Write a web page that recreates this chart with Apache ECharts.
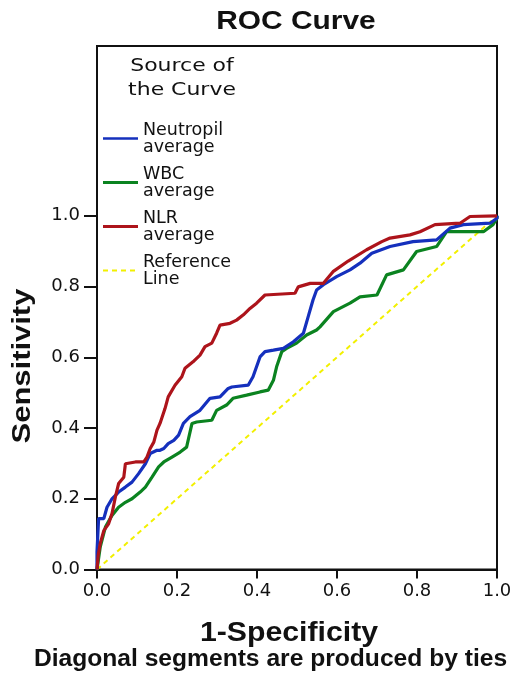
<!DOCTYPE html>
<html>
<head>
<meta charset="utf-8">
<script src="https://cdn.jsdelivr.net/npm/echarts@6/dist/echarts.min.js"></script>
<style>
  html, body { margin: 0; padding: 0; background: #ffffff; }
  #chart { width: 518px; height: 673px; }
</style>
</head>
<body>
<div id="chart"></div>
<script>
// ---- tick labels ----
const xTicks = [0, 0.2, 0.4, 0.6, 0.8, 1.0];
const yTicks = [0, 0.2, 0.4, 0.6, 0.8, 1.0];

// ---- series names ----
const seriesNames = ['Neutropil\naverage', 'WBC\naverage', 'NLR\naverage', 'Reference\nLine'];

// ---- Neutropil average (1-Specificity, Sensitivity) ----
const neutFpr = [0, 0, 0.004, 0.017, 0.025, 0.0375, 0.054, 0.071, 0.0875, 0.104, 0.121, 0.133, 0.15, 0.1575, 0.167, 0.178, 0.192, 0.204, 0.216, 0.2325, 0.2575, 0.2825, 0.3075, 0.328, 0.337, 0.378, 0.39, 0.4075, 0.42, 0.441, 0.466, 0.491, 0.516, 0.528, 0.54, 0.549, 0.566, 0.599, 0.6325, 0.6575, 0.687, 0.7325, 0.79, 0.849, 0.8825, 0.916, 0.9825, 1.0, 1.0];
const neutTpr = [0, 0.05, 0.144, 0.144, 0.176, 0.2, 0.219, 0.233, 0.247, 0.271, 0.299, 0.328, 0.337, 0.337, 0.342, 0.356, 0.365, 0.38, 0.413, 0.432, 0.45, 0.484, 0.488, 0.512, 0.516, 0.521, 0.545, 0.601, 0.616, 0.62, 0.625, 0.644, 0.668, 0.715, 0.762, 0.79, 0.805, 0.828, 0.847, 0.866, 0.894, 0.913, 0.927, 0.932, 0.965, 0.975, 0.979, 0.993, 1.0];

// ---- WBC average ----
const wbcFpr = [0, 0.008, 0.021, 0.0375, 0.054, 0.071, 0.0875, 0.108, 0.121, 0.1375, 0.154, 0.167, 0.1875, 0.208, 0.224, 0.2375, 0.249, 0.287, 0.299, 0.324, 0.34, 0.374, 0.4075, 0.428, 0.441, 0.449, 0.462, 0.474, 0.499, 0.524, 0.549, 0.5575, 0.591, 0.6325, 0.6575, 0.7, 0.724, 0.766, 0.799, 0.849, 0.874, 0.966, 0.99, 1.0, 1.0];
const wbcTpr = [0, 0.063, 0.12, 0.153, 0.176, 0.19, 0.2, 0.219, 0.233, 0.261, 0.29, 0.304, 0.318, 0.332, 0.346, 0.413, 0.417, 0.422, 0.45, 0.465, 0.484, 0.493, 0.502, 0.507, 0.535, 0.573, 0.616, 0.625, 0.64, 0.663, 0.677, 0.686, 0.729, 0.753, 0.771, 0.776, 0.833, 0.847, 0.899, 0.913, 0.955, 0.955, 0.975, 0.993, 1.0];

// ---- NLR average ----
const nlrFpr = [0, 0.003, 0.008, 0.017, 0.029, 0.0375, 0.046, 0.054, 0.067, 0.071, 0.096, 0.117, 0.125, 0.133, 0.142, 0.15, 0.1575, 0.17, 0.178, 0.195, 0.212, 0.22, 0.24, 0.2575, 0.27, 0.287, 0.299, 0.3075, 0.3325, 0.349, 0.366, 0.3825, 0.399, 0.42, 0.424, 0.495, 0.503, 0.533, 0.566, 0.59, 0.628, 0.674, 0.712, 0.7325, 0.7825, 0.8075, 0.845, 0.9075, 0.9325, 1.0];
const nlrTpr = [0, 0.04, 0.073, 0.11, 0.129, 0.158, 0.205, 0.243, 0.261, 0.299, 0.304, 0.304, 0.318, 0.342, 0.36, 0.394, 0.413, 0.455, 0.488, 0.521, 0.545, 0.569, 0.587, 0.606, 0.63, 0.64, 0.668, 0.691, 0.696, 0.705, 0.72, 0.738, 0.753, 0.776, 0.781, 0.781, 0.799, 0.809, 0.809, 0.842, 0.872, 0.904, 0.927, 0.937, 0.946, 0.955, 0.975, 0.979, 0.998, 1.0];

// ---- Reference line ----
const refFpr = [0, 1];
const refTpr = [0, 1];

function zip(a, b) { return a.map(function (v, i) { return [v, b[i]]; }); }

const chart = echarts.init(document.getElementById('chart'), null, { renderer: 'canvas' });

const textColor = '#111111';
const axisStyle = { color: '#111111', width: 2 };
const colors = ['#1530bd', '#0b8320', '#ad141b', '#f2f000'];

const solidIcon = 'path://M0,0H35V3H0Z';
const thinIcon = 'path://M0,0H35V2.4H0Z';
const dashIcon = 'path://M0,0H5V2H0Z M9,0H14V2H9Z M18,0H23V2H18Z M27,0H32V2H27Z M35,0H35V2H35Z';

const option = {
  backgroundColor: '#ffffff',
  animation: false,
  grid: {
    left: 97, right: 21, top: 46, bottom: 103.5,
    show: true, borderColor: '#111111', borderWidth: 2, backgroundColor: 'transparent'
  },
  legend: {
    orient: 'vertical',
    left: 103, top: 121,
    padding: 0,
    itemWidth: 35, itemHeight: 14, itemGap: 9,
    symbolKeepAspect: true,
    data: [
      { name: seriesNames[0], icon: thinIcon },
      { name: seriesNames[1], icon: solidIcon },
      { name: seriesNames[2], icon: solidIcon },
      { name: seriesNames[3], icon: dashIcon }
    ],
    textStyle: { fontFamily: 'DejaVu Sans', fontSize: 17.5, lineHeight: 17, color: textColor },
    selectedMode: false
  },
  xAxis: {
    type: 'value', min: 0, max: 1, interval: 0.2,
    axisLine: { show: true, onZero: false, lineStyle: axisStyle },
    axisTick: { show: true, length: 9, lineStyle: axisStyle, customValues: xTicks },
    axisLabel: {
      customValues: xTicks,
      margin: 13, color: textColor, fontFamily: 'DejaVu Sans', fontSize: 18,
      formatter: function (v) { return v.toFixed(1); }
    },
    splitLine: { show: false }
  },
  yAxis: {
    type: 'value', min: 0, max: 1.48, interval: 0.2,
    axisLine: { show: true, onZero: false, lineStyle: axisStyle },
    axisTick: { show: true, length: 13, lineStyle: axisStyle, customValues: yTicks },
    axisLabel: {
      customValues: yTicks,
      margin: 17, color: textColor, fontFamily: 'DejaVu Sans', fontSize: 18,
      formatter: function (v) { return v > 1.0001 ? '' : v.toFixed(1); }
    },
    splitLine: { show: false }
  },
  series: [
    {
      name: seriesNames[0], type: 'line', symbol: 'none', z: 3,
      data: zip(neutFpr, neutTpr),
      lineStyle: { color: colors[0], width: 3.2 }, itemStyle: { color: colors[0] }
    },
    {
      name: seriesNames[1], type: 'line', symbol: 'none', z: 2,
      data: zip(wbcFpr, wbcTpr),
      lineStyle: { color: colors[1], width: 3.2 }, itemStyle: { color: colors[1] }
    },
    {
      name: seriesNames[2], type: 'line', symbol: 'none', z: 4,
      data: zip(nlrFpr, nlrTpr),
      lineStyle: { color: colors[2], width: 3.2 }, itemStyle: { color: colors[2] }
    },
    {
      name: seriesNames[3], type: 'line', symbol: 'none', z: 1,
      data: zip(refFpr, refTpr),
      lineStyle: { color: colors[3], width: 2, type: [5, 4] }, itemStyle: { color: colors[3] }
    }
  ],
  graphic: [
    {
      type: 'text', x: 296, y: 22, scaleX: 1.15,
      style: { text: 'ROC Curve', fill: textColor, fontFamily: 'Liberation Sans', fontWeight: 'bold', fontSize: 26, align: 'center', verticalAlign: 'middle' }
    },
    {
      type: 'text', x: 182, y: 78, scaleX: 1.22,
      style: { text: 'Source of\nthe Curve', fill: textColor, fontFamily: 'DejaVu Sans', fontSize: 18, lineHeight: 24, align: 'center', verticalAlign: 'middle' }
    },
    {
      type: 'text', x: 23, y: 366, rotation: Math.PI / 2, scaleX: 1.19,
      style: { text: 'Sensitivity', fill: textColor, fontFamily: 'Liberation Sans', fontWeight: 'bold', fontSize: 26, align: 'center', verticalAlign: 'middle' }
    },
    {
      type: 'text', x: 289, y: 633, scaleX: 1.08,
      style: { text: '1-Specificity', fill: textColor, fontFamily: 'Liberation Sans', fontWeight: 'bold', fontSize: 28, align: 'center', verticalAlign: 'middle' }
    },
    {
      type: 'text', x: 270.5, y: 660, scaleX: 1.07,
      style: { text: 'Diagonal segments are produced by ties', fill: textColor, fontFamily: 'Liberation Sans', fontWeight: 'bold', fontSize: 23, align: 'center', verticalAlign: 'middle' }
    }
  ]
};

chart.setOption(option);
</script>
</body>
</html>
